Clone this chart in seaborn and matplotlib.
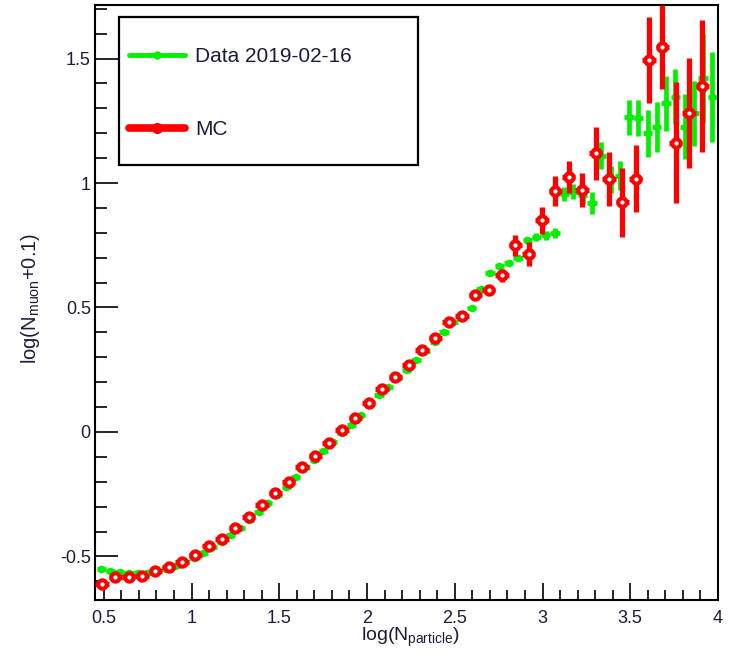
import matplotlib
matplotlib.use("Agg")
import matplotlib.pyplot as plt
import seaborn as sns
from matplotlib.ticker import MultipleLocator, FuncFormatter
from matplotlib.lines import Line2D
from matplotlib.patches import Rectangle

# ---------------- data ----------------
data_label = "Data 2019-02-16"
mc_label = "MC"

data_x = [0.485, 0.538, 0.590, 0.643, 0.696, 0.749, 0.801, 0.854, 0.907, 0.960,
          1.013, 1.065, 1.118, 1.171, 1.224, 1.276, 1.329, 1.382, 1.435, 1.488,
          1.540, 1.593, 1.646, 1.699, 1.751, 1.804, 1.857, 1.910, 1.963, 2.015,
          2.068, 2.121, 2.174, 2.226, 2.279, 2.332, 2.385, 2.438, 2.490, 2.543,
          2.596, 2.649, 2.701, 2.754, 2.807, 2.860, 2.913, 2.965, 3.018, 3.071,
          3.124, 3.176, 3.229, 3.282, 3.335, 3.388, 3.440, 3.493, 3.546, 3.599,
          3.651, 3.704, 3.757, 3.810, 3.863, 3.915, 3.968]
data_y = [-0.552, -0.558, -0.562, -0.565, -0.566, -0.567, -0.560, -0.552, -0.538, -0.522,
          -0.507, -0.486, -0.463, -0.443, -0.414, -0.384, -0.353, -0.320, -0.286, -0.252,
          -0.220, -0.181, -0.142, -0.112, -0.078, -0.042, -0.005, 0.028, 0.067, 0.109,
          0.147, 0.182, 0.215, 0.248, 0.288, 0.327, 0.361, 0.402, 0.440, 0.470,
          0.497, 0.575, 0.640, 0.668, 0.680, 0.700, 0.770, 0.785, 0.790, 0.800,
          0.955, 0.965, 0.950, 0.920, 1.110, 1.015, 1.030, 1.264, 1.262, 1.199,
          1.226, 1.320, 1.347, 1.226, 1.280, 1.420, 1.345]
data_err = [0.006, 0.006, 0.006, 0.006, 0.006, 0.006, 0.006, 0.006, 0.006, 0.006,
            0.006, 0.006, 0.006, 0.006, 0.006, 0.006, 0.006, 0.006, 0.006, 0.006,
            0.006, 0.006, 0.006, 0.006, 0.006, 0.006, 0.006, 0.006, 0.006, 0.006,
            0.006, 0.006, 0.006, 0.006, 0.006, 0.006, 0.006, 0.008, 0.008, 0.008,
            0.008, 0.010, 0.010, 0.010, 0.010, 0.012, 0.014, 0.016, 0.018, 0.020,
            0.028, 0.030, 0.035, 0.045, 0.053, 0.055, 0.060, 0.070, 0.072, 0.094,
            0.100, 0.110, 0.110, 0.130, 0.130, 0.180, 0.180]
data_xerr = 0.0264

mc_x = [0.490, 0.566, 0.642, 0.718, 0.794, 0.870, 0.946, 1.022, 1.098, 1.174,
        1.250, 1.326, 1.402, 1.478, 1.554, 1.630, 1.706, 1.782, 1.858, 1.934,
        2.010, 2.086, 2.162, 2.238, 2.314, 2.390, 2.466, 2.542, 2.618, 2.694,
        2.770, 2.846, 2.922, 2.998, 3.074, 3.150, 3.226, 3.302, 3.378, 3.454,
        3.530, 3.606, 3.682, 3.758, 3.834, 3.910]
mc_y = [-0.610, -0.584, -0.584, -0.578, -0.557, -0.543, -0.521, -0.494, -0.458, -0.430,
        -0.387, -0.343, -0.295, -0.246, -0.200, -0.139, -0.096, -0.045, 0.008, 0.055,
        0.118, 0.171, 0.220, 0.267, 0.328, 0.376, 0.440, 0.466, 0.550, 0.570,
        0.629, 0.749, 0.716, 0.850, 0.967, 1.025, 0.972, 1.119, 1.016, 0.922,
        1.018, 1.494, 1.547, 1.162, 1.282, 1.390]
mc_err = [0.006, 0.006, 0.006, 0.006, 0.006, 0.006, 0.006, 0.006, 0.006, 0.006,
          0.006, 0.006, 0.006, 0.006, 0.006, 0.006, 0.006, 0.006, 0.006, 0.006,
          0.008, 0.010, 0.010, 0.012, 0.012, 0.014, 0.015, 0.016, 0.018, 0.020,
          0.025, 0.044, 0.048, 0.055, 0.060, 0.065, 0.070, 0.105, 0.110, 0.140,
          0.136, 0.174, 0.170, 0.244, 0.220, 0.265]
mc_xerr = 0.038

x_ticks = [0.5, 1.0, 1.5, 2.0, 2.5, 3.0, 3.5, 4.0]
y_ticks = [-0.5, 0.0, 0.5, 1.0, 1.5]

# ---------------- style ----------------
GREEN = "#00f000"
RED = "#ff0000"
TXT = "#1c1c3a"

sns.set_theme(style="ticks")
plt.rcParams["font.family"] = ["Liberation Sans", "DejaVu Sans"]
plt.rcParams["mathtext.fontset"] = "custom"
plt.rcParams["mathtext.rm"] = "Liberation Sans"
plt.rcParams["mathtext.it"] = "Liberation Sans:italic"

fig = plt.figure(figsize=(7.38, 6.59), dpi=100)
fig.patch.set_facecolor("white")
ax = fig.add_axes([95 / 738, 59 / 659, 623 / 738, 595 / 659])
ax.set_facecolor("white")

# data (green)
ax.errorbar(data_x, data_y, yerr=data_err, xerr=data_xerr, fmt="none",
            ecolor=GREEN, elinewidth=3.4, capsize=0, zorder=2)
sns.scatterplot(x=data_x, y=data_y, ax=ax, color=GREEN, marker="o", s=30,
                linewidth=0, zorder=3, legend=False)

# MC (red)
ax.errorbar(mc_x, mc_y, yerr=mc_err, xerr=mc_xerr, fmt="none",
            ecolor=RED, elinewidth=3.8, capsize=0, zorder=4)
sns.scatterplot(x=mc_x, y=mc_y, ax=ax, color="white", edgecolor=RED,
                marker="o", s=6.0 ** 2, linewidth=2.9, zorder=5, legend=False)

ax.set_xlim(0.45, 4.0)
ax.set_ylim(-0.675, 1.715)

ax.set_xticks(x_ticks)
ax.set_yticks(y_ticks)
ax.xaxis.set_minor_locator(MultipleLocator(0.1))
ax.yaxis.set_minor_locator(MultipleLocator(0.1))
fmt = FuncFormatter(lambda v, p: "%g" % v)
ax.xaxis.set_major_formatter(fmt)
ax.yaxis.set_major_formatter(fmt)

for s in ax.spines.values():
    s.set_visible(True)
    s.set_linewidth(1.5)
    s.set_color("black")

ax.tick_params(axis="x", which="major", direction="in", length=12, width=1.4,
               pad=7, labelsize=13, labelcolor=TXT, top=False, bottom=True)
ax.tick_params(axis="x", which="minor", direction="in", length=7, width=1.4,
               top=False, bottom=True)
ax.tick_params(axis="y", which="major", direction="in", length=16.5, width=1.4,
               pad=3, labelsize=13, labelcolor=TXT, right=False, left=True)
ax.tick_params(axis="y", which="minor", direction="in", length=8.5, width=1.4,
               right=False, left=True)
ax.set_xlabel("")
ax.set_ylabel("")

# axis titles
fig.text(410 / 738, 1 - 637 / 659, r"log(N$_{\mathrm{particle}}$)", ha="center",
         va="center", fontsize=14, color=TXT)
fig.text(31 / 738, 1 - 298 / 659, r"log(N$_{\mathrm{muon}}$+0.1)", ha="center",
         va="center", fontsize=14.5, color=TXT, rotation=90)

# legend (ROOT-style box)
ax.add_patch(Rectangle((0.0385, 0.7311), 0.48, 0.2487, transform=ax.transAxes,
                       facecolor="white", edgecolor="black", linewidth=1.6,
                       zorder=10))
ax.add_line(Line2D([0.0546, 0.1445], [0.916, 0.916], transform=ax.transAxes,
                   color=GREEN, lw=3.5, zorder=11))
ax.add_line(Line2D([0.1000], [0.916], transform=ax.transAxes, color=GREEN,
                   marker="o", ms=5, lw=0, zorder=12))
ax.text(0.1605, 0.914, data_label, transform=ax.transAxes, ha="left",
        va="center", fontsize=15, color=TXT, zorder=12)
ax.add_line(Line2D([0.0546, 0.1445], [0.793, 0.793], transform=ax.transAxes,
                   color=RED, lw=5.5, zorder=11))
ax.add_line(Line2D([0.1000], [0.793], transform=ax.transAxes, color=RED,
                   marker="o", ms=7, lw=0, zorder=12))
ax.text(0.1605, 0.791, mc_label, transform=ax.transAxes, ha="left",
        va="center", fontsize=15, color=TXT, zorder=12)

fig.savefig("out.png", dpi=100, facecolor="white")
